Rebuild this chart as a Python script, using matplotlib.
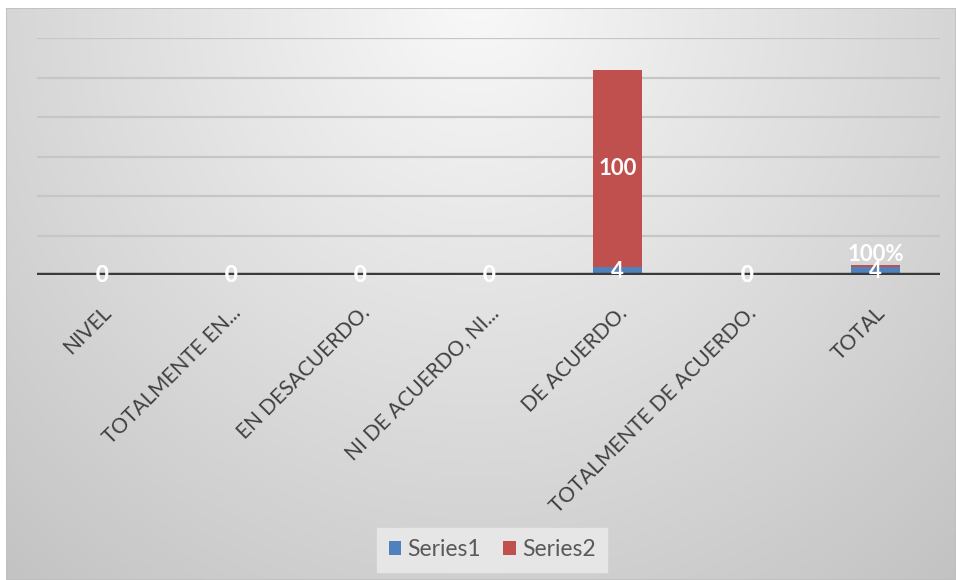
import numpy as np
import matplotlib.pyplot as plt
from matplotlib.patches import Rectangle

# categories and values
niveles = ['NIVEL', 'TOTALMENTE EN...', 'EN DESACUERDO.', 'NI DE ACUERDO, NI...',
           'DE ACUERDO.', 'TOTALMENTE DE ACUERDO.', 'TOTAL']
series1 = [0, 0, 0, 0, 4, 0, 4]
series2 = [0, 0, 0, 0, 100, 0, 1]
series2_fmt = ['{:g}', '{:g}', '{:g}', '{:g}', '{:g}', '{:g}', '{:.0%}']

azul = '#4f81bd'
rojo = '#c0504d'

plt.rcParams['font.family'] = ['Lato', 'DejaVu Sans']

fig = plt.figure(figsize=(9.56, 5.8), dpi=100)

# gradient background of the chart box
bg = fig.add_axes([6 / 956, 0, 950 / 956, 572 / 580], zorder=0)
yy, xx = np.mgrid[0:572, 0:950]
d = np.sqrt(((xx - 470) / 1.0) ** 2 + ((yy + 10) / 1.05) ** 2)
shade = np.clip(0.975 - 0.00029 * d, 0.74, 1.0)
bg.imshow(np.dstack([shade] * 3), aspect='auto', extent=[0, 1, 0, 1])
bg.add_patch(Rectangle((0, 0), 1, 1, transform=bg.transAxes, fill=False,
                       edgecolor='#bfbfbf', lw=1.2))
bg.set_axis_off()

ax = fig.add_axes([37 / 956, 305 / 580, 903 / 956, 237 / 580], zorder=1)
ax.patch.set_alpha(0)

x = np.arange(len(niveles))
w = 0.38
ax.bar(x, series1, w, color=azul, label='Series1', zorder=3)
ax.bar(x, series2, w, bottom=series1, color=rojo, label='Series2', zorder=3)

for i in x:
    ax.text(i, series1[i] / 2, '{:g}'.format(series1[i]), ha='center', va='center',
            color='white', fontsize=16, fontweight='bold', zorder=5)
    ax.text(i, series1[i] + series2[i] / 2 + (6 if i == 6 else 0),
            series2_fmt[i].format(series2[i]), ha='center', va='center',
            color='white', fontsize=16, fontweight='bold', zorder=5)

ax.set_xlim(-0.5, len(niveles) - 0.5)
ax.set_ylim(0, 120)
ax.set_yticks(np.arange(0, 121, 20))
ax.yaxis.grid(True, color='#c6c6c6', lw=1.6, zorder=1)
ax.tick_params(axis='y', length=0, labelleft=False)
ax.axhline(0, color='#3a3a3a', lw=3.2, zorder=4)

ax.set_xticks(x)
ax.set_xticklabels(niveles, rotation=45, ha='right', rotation_mode='anchor',
                   fontsize=15, color='#404040')
ax.tick_params(axis='x', length=0, pad=20)
for s in ax.spines.values():
    s.set_visible(False)

leg = fig.legend(loc='center', bbox_to_anchor=(492 / 956, 30 / 580), ncol=2,
                 frameon=True, fontsize=16.5, handlelength=0.55, handleheight=0.55,
                 handletextpad=0.25, columnspacing=1.0, borderpad=0.5)
leg.get_frame().set_facecolor('#e6e6e6')
leg.get_frame().set_edgecolor('#e6e6e6')
leg.get_frame().set_alpha(1)
leg.get_frame().set_boxstyle('square', pad=0)
for t in leg.get_texts():
    t.set_color('#595959')

fig.savefig('out.png', dpi=100)
